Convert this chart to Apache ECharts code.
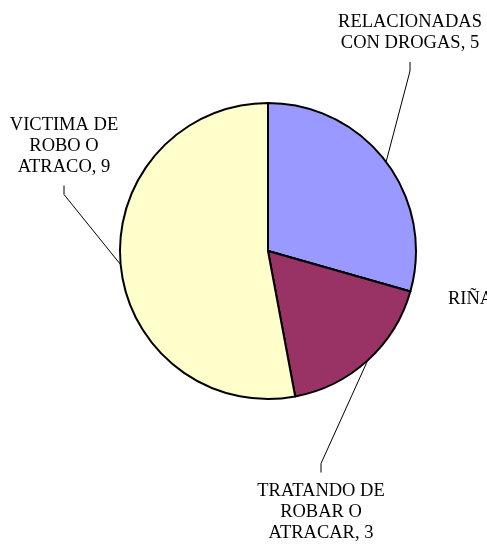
<!DOCTYPE html>
<html>
<head>
<meta charset="utf-8">
<script src="https://cdn.jsdelivr.net/npm/echarts@6/dist/echarts.min.js"></script>
<style>
  html, body { margin: 0; padding: 0; background: #fff; }
  #chart { width: 487px; height: 544px; }
</style>
</head>
<body>
<div id="chart"></div>
<script>
// data
const names = ['RELACIONADAS\nCON DROGAS', 'RIÑAS', 'TRATANDO DE\nROBAR O\nATRACAR', 'VICTIMA DE\nROBO O\nATRACO'];
const values = [5, 0, 3, 9];
const colors = ['#9999FF', '#FFFFFF', '#993366', '#FFFFCC'];

// where each label sits (center of text block), like the excel chart
const labelPos = [[410, 33, 'center'], [448, 299, 'left'], [321, 512, 'center'], [64, 146, 'center']];
const lineH = 21;

let myChart = echarts.init(document.getElementById('chart'));
let option = {
    animation: false,
    series: [
        {
            type: 'pie',
            center: [268, 251],
            radius: 148,
            startAngle: 90,
            clockwise: true,
            avoidLabelOverlap: false,
            emphasis: { disabled: true },
            itemStyle: {
                borderColor: '#000',
                borderWidth: 2
            },
            label: {
                show: true,
                position: 'outside',
                formatter: '{b}, {c}',
                color: '#000',
                fontFamily: 'Liberation Serif',
                fontSize: 18.5,
                lineHeight: lineH
            },
            labelLine: {
                show: true,
                lineStyle: { color: '#000', width: 1 }
            },
            labelLayout: function (p) {
                let i = p.dataIndex;
                let pos = labelPos[i];
                let h = names[i].split('\n').length * lineH;
                let out = { x: pos[0], y: pos[1], align: pos[2], verticalAlign: 'middle' };
                if (p.labelLinePoints && values[i] > 0) {
                    let a = p.labelLinePoints[0];
                    let below = pos[1] > a[1];
                    // short vertical piece next to the text, then straight to the slice
                    let ey = below ? pos[1] - h / 2 - 8 : pos[1] + h / 2 + 8;
                    let my = below ? ey - 9 : ey + 9;
                    out.labelLinePoints = [[a[0], a[1]], [pos[0], my], [pos[0], ey]];
                }
                return out;
            },
            data: names.map(function (n, i) {
                return {
                    name: n,
                    value: values[i],
                    itemStyle: { color: colors[i] },
                    labelLine: { show: values[i] > 0 }
                };
            })
        }
    ]
};
myChart.setOption(option);

window.addEventListener('resize', function () {
    myChart.resize();
});
</script>
</body>
</html>
